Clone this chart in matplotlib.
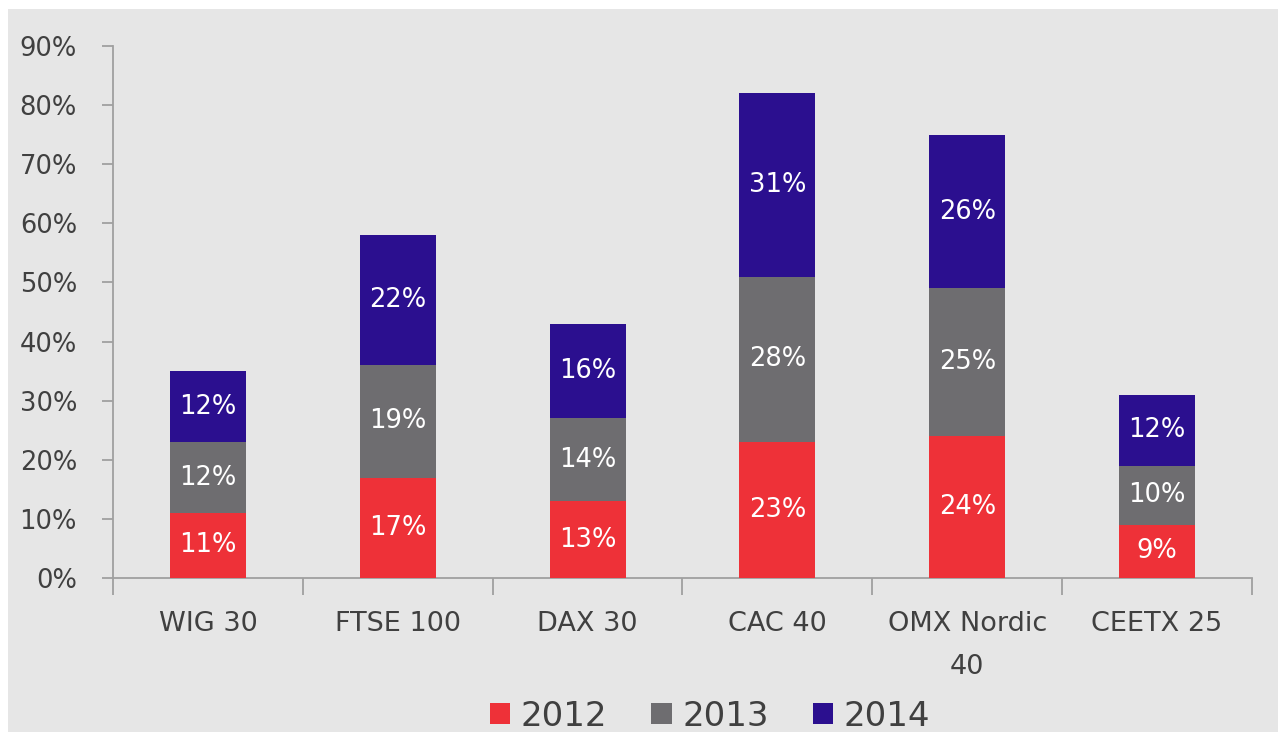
import matplotlib
matplotlib.use("Agg")
import matplotlib.pyplot as plt
from matplotlib.patches import Rectangle
from matplotlib.ticker import FixedLocator, NullFormatter
import numpy as np

categories = ["WIG 30", "FTSE 100", "DAX 30", "CAC 40", "OMX Nordic\n40", "CEETX 25"]
series_names = ["2012", "2013", "2014"]
v2012 = [11, 17, 13, 23, 24, 9]
v2013 = [12, 19, 14, 28, 25, 10]
v2014 = [12, 22, 16, 31, 26, 12]
colors = ["#ee3138", "#6e6d70", "#2b0f8f"]
yticks = [0, 10, 20, 30, 40, 50, 60, 70, 80, 90]

plt.rcParams['font.family'] = ['DejaVu Sans']
W, H = 1278, 732
fig = plt.figure(figsize=(W / 100, H / 100), dpi=100, facecolor="white")
fig.patches.append(Rectangle((8 / W, 0), 1, 1 - 9 / H, transform=fig.transFigure,
                             facecolor="#e6e6e6", edgecolor="none", zorder=-10))

ax = fig.add_axes([113 / W, 1 - 578 / H, (1252 - 113) / W, (578 - 46) / H])
ax.set_facecolor("none")

x = np.arange(len(categories))
bottom = np.zeros(len(categories))
handles = []
for name, vals, c in zip(series_names, [v2012, v2013, v2014], colors):
    vals = np.array(vals, dtype=float)
    b = ax.bar(x, vals, width=0.4, bottom=bottom, color=c, label=name, zorder=3)
    handles.append(b)
    for xi, v, bt in zip(x, vals, bottom):
        ax.text(xi, bt + v / 2, f"{int(v)}%", ha="center", va="center",
                color="white", fontsize=18.5, zorder=4)
    bottom += vals

ax.set_xlim(-0.5, len(categories) - 0.5)
ax.set_ylim(0, 90)
ax.set_yticks(yticks)
ax.set_yticklabels([f"{t}%" for t in yticks])

ax.set_xticks(x)
ax.set_xticklabels(categories, linespacing=1.85, va="top")
ax.xaxis.set_minor_locator(FixedLocator(np.arange(-0.5, len(categories), 1.0)))
ax.xaxis.set_minor_formatter(NullFormatter())
ax.tick_params(axis="x", which="major", length=0, pad=24, labelsize=19.5, labelcolor="#404040")
ax.tick_params(axis="x", which="minor", length=12, width=1.3, color="#a0a0a0", direction="out")
ax.tick_params(axis="y", length=8, width=1.3, color="#a0a0a0", labelsize=18.5,
               labelcolor="#404040", pad=18)

for s in ["top", "right"]:
    ax.spines[s].set_visible(False)
for s in ["left", "bottom"]:
    ax.spines[s].set_color("#a0a0a0")
    ax.spines[s].set_linewidth(1.3)

leg = fig.legend(handles=handles, labels=series_names, loc="center",
                 bbox_to_anchor=(710 / W, 1 - 716 / H), ncol=3, frameon=False,
                 fontsize=24.5, handlelength=0.6, handleheight=0.6,
                 handletextpad=0.3, columnspacing=1.3, labelcolor="#404040",
                 borderpad=0.0)

fig.savefig("out.png", dpi=100, facecolor=fig.get_facecolor())
